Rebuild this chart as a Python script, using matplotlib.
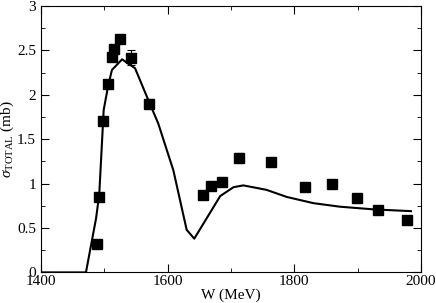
import matplotlib
matplotlib.use('Agg')
import matplotlib.pyplot as plt
from matplotlib.ticker import MultipleLocator

plt.rcParams['font.family'] = ['Liberation Serif', 'DejaVu Serif']
plt.rcParams['mathtext.fontset'] = 'custom'
plt.rcParams['mathtext.rm'] = 'Liberation Serif'
plt.rcParams['mathtext.it'] = 'Liberation Serif:italic'

# experimental points
w_data = [1488, 1491.6, 1498.4, 1506.3, 1512, 1515.8, 1524, 1542, 1570.5,
          1656, 1669, 1685.8, 1713, 1762.7, 1817, 1859, 1899.5, 1932.7, 1978]
sig_data = [0.32, 0.85, 1.71, 2.12, 2.43, 2.52, 2.63, 2.42, 1.90,
            0.87, 0.97, 1.02, 1.29, 1.24, 0.96, 1.00, 0.84, 0.70, 0.59]
sig_err = [0.02, 0.02, 0.03, 0.03, 0.03, 0.03, 0.03, 0.08, 0.05,
           0.02, 0.04, 0.03, 0.05, 0.02, 0.02, 0.02, 0.02, 0.02, 0.02]

# model curve
w_model = [1400, 1471, 1487, 1492, 1499, 1506, 1512, 1528, 1548.5, 1569.5,
           1585, 1609, 1630, 1642, 1683, 1704, 1719.5, 1756, 1788, 1830,
           1872, 1925, 1984]
sig_model = [0, 0, 0.61, 0.88, 1.83, 2.1, 2.28, 2.40, 2.30, 1.94,
             1.68, 1.15, 0.48, 0.38, 0.86, 0.96, 0.98, 0.93, 0.85, 0.78,
             0.74, 0.71, 0.69]

fig = plt.figure(figsize=(4.36, 3.03), dpi=100)
ax = fig.add_axes([0.094, 0.101, 0.8716, 0.879])

ax.plot(w_model, sig_model, color='black', linewidth=1.5)
ax.errorbar(w_data, sig_data, yerr=sig_err, fmt='s', color='black',
            markersize=6.5, elinewidth=0.8, capsize=3, capthick=0.8)

ax.set_xlim(1400, 2000)
ax.set_ylim(0, 3)
ax.xaxis.set_major_locator(MultipleLocator(200))
ax.xaxis.set_minor_locator(MultipleLocator(100))
ax.yaxis.set_major_locator(MultipleLocator(0.5))
ax.yaxis.set_minor_locator(MultipleLocator(0.25))
ax.tick_params(which='both', direction='in', top=True, right=True,
               labelsize=11)
ax.tick_params(axis='x', pad=2)
ax.tick_params(which='major', length=6)
ax.tick_params(which='minor', length=3)
ax.yaxis.set_major_formatter(plt.FuncFormatter(lambda v, p: f'{v:g}'))

ax.set_xlabel('W (MeV)', fontsize=11, labelpad=0)
ax.set_ylabel(r'$\sigma_{\mathrm{TOTAL}}$ (mb)', fontsize=11)
ax.yaxis.set_label_coords(-0.066, 0.5)

fig.savefig('out.png', dpi=100)
